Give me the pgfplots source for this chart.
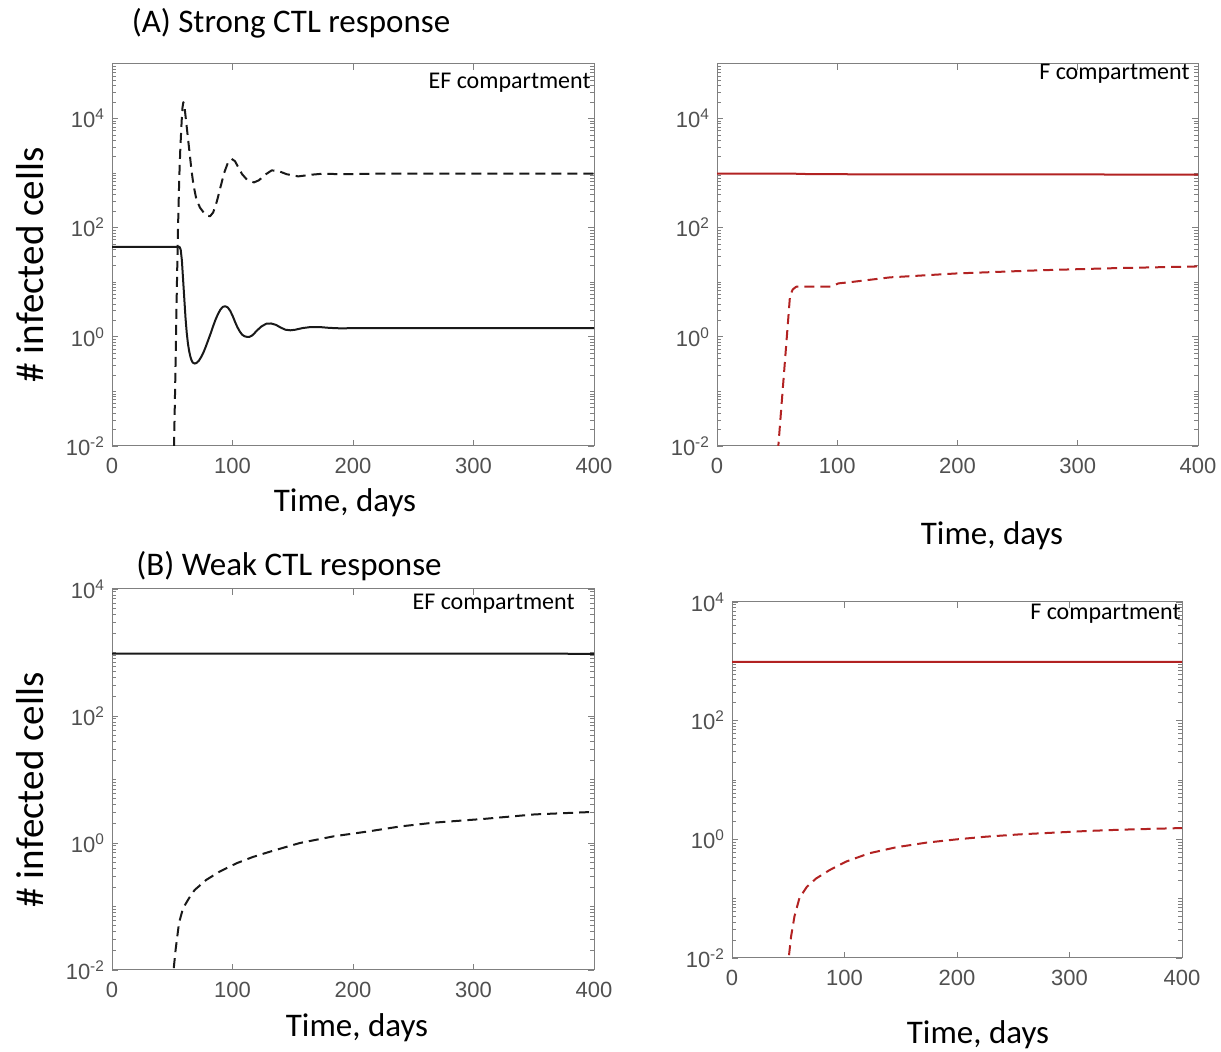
\documentclass[border=0pt]{standalone}
\usepackage{fontspec}
\setmainfont{Carlito}
\newfontfamily\tickfont{Liberation Sans}
\usepackage{pgfplots}
\pgfplotsset{compat=1.18}
\definecolor{ctlred}{RGB}{178,34,34}
\definecolor{axgray}{RGB}{128,128,128}
\definecolor{lblgray}{RGB}{80,80,80}
\definecolor{ink}{RGB}{25,25,25}

\pgfplotsset{
  panel/.style={
    scale only axis,
    xmin=0, xmax=400, xtick={0,100,200,300,400},
    ytick={1e-2,1,1e2,1e4},
    yticklabels={10\textsuperscript{-2},10\textsuperscript{0},10\textsuperscript{2},10\textsuperscript{4}},
    minor ytick={0.02,0.03,0.04,0.05,0.06,0.07,0.08,0.09,0.1,0.2,0.3,0.4,0.5,0.6,0.7,0.8,0.9,
      2,3,4,5,6,7,8,9,10,20,30,40,50,60,70,80,90,200,300,400,500,600,700,800,900,
      1000,2000,3000,4000,5000,6000,7000,8000,9000,2e4,3e4,4e4,5e4,6e4,7e4,8e4,9e4},
    axis line style={axgray, line width=0.5pt},
    tick style={axgray, line width=0.4pt},
    major tick length=3pt, minor tick length=1.8pt,
    tick align=inside,
    tick label style={font=\tickfont\fontsize{11}{13}\selectfont, text=lblgray},
    xticklabel style={yshift=-2.5pt},
  },
  solidl/.style={line width=1pt, line join=round},
  dashl/.style={line width=1pt, line join=round, dash pattern=on 5pt off 3pt},
}

\begin{document}
\begin{tikzpicture}
\path[use as bounding box] (0pt,0pt) rectangle (610.5pt,526pt);

% (A) strong CTL, EF compartment
\begin{axis}[ymode=log, panel, /pgf/number format/assume math mode=true,
  at={(56pt,303pt)}, anchor=south west, width=241pt, height=191pt, ymin=1e-2, ymax=1e5]
\addplot[solidl, ink] coordinates {
 (0,44.7) (56,44.7) (57,39.8) (58,25.1) (59,11.2) (60,5.01) (61,2.24) (62,1.20) (63,0.759)
 (64,0.550) (65,0.437) (66,0.372) (67,0.339) (68.5,0.324) (70,0.331) (72,0.363) (74,0.427)
 (76,0.525) (78,0.676) (80,0.891) (82,1.175) (84,1.585) (86,2.089) (88,2.630) (90,3.162)
 (92,3.548) (94,3.631) (96,3.467) (98,3.020) (100,2.455) (102,1.905) (104,1.514) (106,1.259)
 (108,1.096) (110,1.023) (112,1.0) (114,1.0) (116,1.047) (118,1.148) (120,1.288) (124,1.549)
 (128,1.738) (132,1.758) (136,1.660) (140,1.479) (144,1.349) (148,1.318) (152,1.349)
 (158,1.445) (165,1.514) (172,1.514) (180,1.462) (190,1.429) (200,1.445) (400,1.445)
};
\addplot[dashl, ink] coordinates {
 (50,0.0025) (51.5,0.01) (52.5,0.158) (53.1,1.0) (54,12.6) (54.8,100) (55.8,794) (56.7,2818)
 (57.8,8913) (58.5,15850) (59.2,19950) (60,17780) (61,11220) (62.5,5623) (64.2,2570)
 (66,1122) (67.5,631) (70,331) (73,234) (76,191) (79,166) (81.4,162) (84,191) (87,302)
 (90,550) (93,1000) (96,1514) (99.3,1820) (102,1660) (105,1259) (108,955) (112,759)
 (117.8,676) (122,741) (127,933) (132.5,1122) (138,1096) (145,955) (154.6,871) (165,933)
 (175,977) (190,955) (220,977) (400,977)
};
\end{axis}

% (A) strong CTL, F compartment
\begin{axis}[ymode=log, panel, /pgf/number format/assume math mode=true,
  at={(358.5pt,303pt)}, anchor=south west, width=240.5pt, height=191pt, ymin=1e-2, ymax=1e5]
\addplot[solidl, ctlred] coordinates {(0,980) (65,975) (80,955) (400,940)};
\addplot[dashl, ctlred] coordinates {
 (50,0.004) (51,0.01) (55,0.135) (58,0.955) (60.7,5.62) (63,7.41) (66,8.32) (80,8.32)
 (95,8.32) (98,8.91) (101,9.55) (110,10.0) (144,12.3) (199,14.5) (269,16.6) (333,18.2) (400,19.5)
};
\end{axis}

% (B) weak CTL, EF compartment
\begin{axis}[ymode=log, panel, /pgf/number format/assume math mode=true,
  at={(56pt,41pt)}, anchor=south west, width=241pt, height=190.5pt, ymin=1e-2, ymax=1e4]
\addplot[solidl, ink] coordinates {(0,960) (400,955)};
\addplot[dashl, ink] coordinates {
 (50.6,0.006) (51.1,0.01) (52.8,0.0209) (55.6,0.0550) (58.9,0.0933) (63.9,0.135) (68.6,0.182)
 (78.3,0.263) (89.4,0.355) (103.3,0.479) (117,0.603) (134,0.759) (156,1.0) (184,1.274)
 (212,1.514) (239,1.820) (267,2.089) (309,2.399) (350.6,2.818) (400,3.09)
};
\end{axis}

% (B) weak CTL, F compartment
\begin{axis}[ymode=log, panel, /pgf/number format/assume math mode=true,
  at={(366pt,47pt)}, anchor=south west, width=225pt, height=178pt, ymin=1e-2, ymax=1e4]
\addplot[solidl, ctlred] coordinates {(0,980) (400,975)};
\addplot[dashl, ctlred] coordinates {
 (50,0.006) (50.4,0.01) (52.5,0.0229) (55.5,0.0501) (59.9,0.102) (66.5,0.158) (74.8,0.219)
 (86.6,0.302) (101.5,0.422) (122,0.582) (146,0.735) (172.7,0.879) (200,1.0) (226,1.109)
 (256,1.213) (285.5,1.294) (315,1.380) (345,1.452) (400,1.549)
};
\end{axis}

% titles and labels
\begin{scope}[every node/.style={inner sep=0pt, font=\fontsize{16.5}{19}\selectfont}]
\node at (145.5pt,514.5pt) {(A) Strong CTL response};
\node at (144.5pt,243pt) {(B) Weak CTL response};
\node at (172.5pt,274.5pt) {Time, days};
\node at (496pt,258pt) {Time, days};
\node at (178.5pt,12pt) {Time, days};
\node at (489pt,8.5pt) {Time, days};
\end{scope}
\begin{scope}[every node/.style={inner sep=0pt, rotate=90, font=\fontsize{19.5}{22}\selectfont}]
\node at (15pt,393.5pt) {\# infected cells};
\node at (15pt,131pt) {\# infected cells};
\end{scope}
\begin{scope}[every node/.style={inner sep=0pt, anchor=east, font=\fontsize{12}{14}\selectfont}]
\node at (295.5pt,484.5pt) {EF compartment};
\node at (595pt,489pt) {F compartment};
\node at (287.5pt,224pt) {EF compartment};
\node at (590.5pt,219pt) {F compartment};
\end{scope}
\end{tikzpicture}
\end{document}
